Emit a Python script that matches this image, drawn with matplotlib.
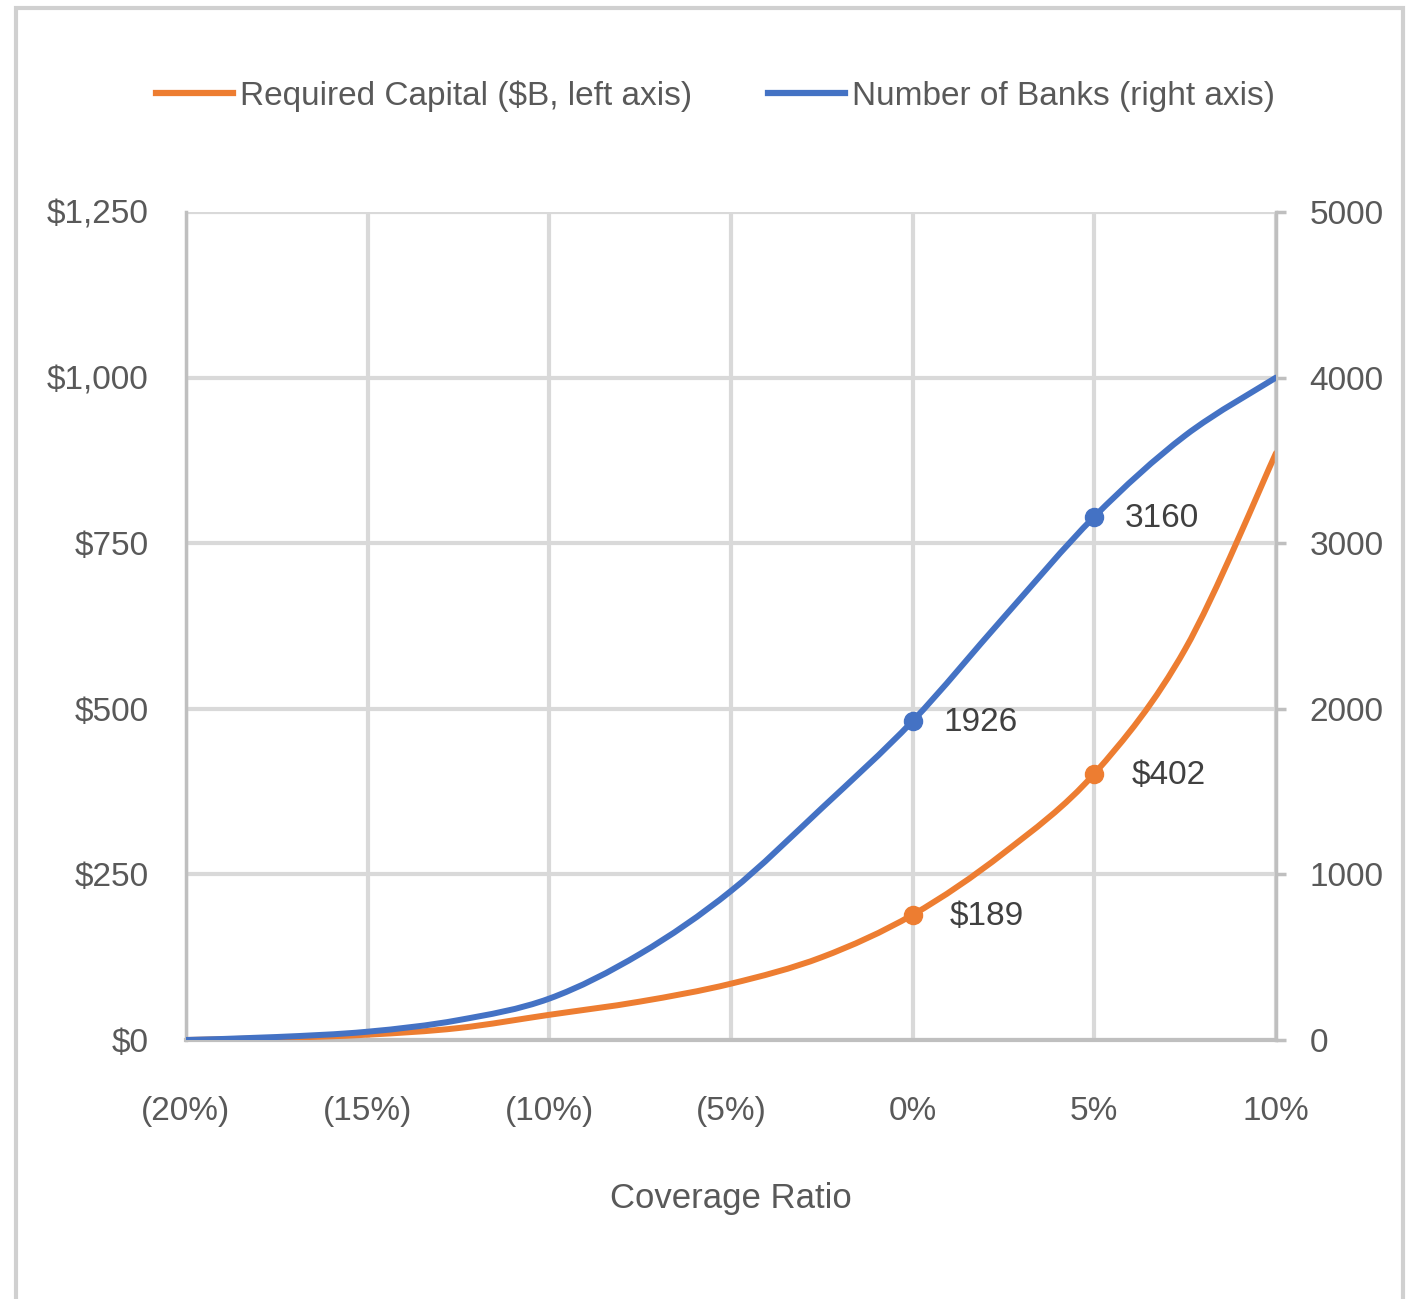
import matplotlib
matplotlib.use("Agg")
import matplotlib.pyplot as plt
from matplotlib.path import Path
from matplotlib.patches import PathPatch, Rectangle
from matplotlib.lines import Line2D
from matplotlib.ticker import FuncFormatter

# data
coverage = [-20, -17.5, -15, -12.5, -10, -7.5, -5, -2.5, 0, 2.5, 5, 7.5, 10]
capital = [0, 3, 8, 18, 38, 58, 85, 125, 189, 282, 402, 590, 886]
banks = [0, 18, 50, 120, 250, 520, 900, 1400, 1926, 2550, 3160, 3650, 4000]
markedX = [0, 5]
markedCapital = [189, 402]
markedBanks = [1926, 3160]
capitalLabels = ["$189", "$402"]
bankLabels = ["1926", "3160"]
xTicks = [-20, -15, -10, -5, 0, 5, 10]
xTickLabels = ["(20%)", "(15%)", "(10%)", "(5%)", "0%", "5%", "10%"]
legendLabels = ["Required Capital ($B, left axis)", "Number of Banks (right axis)"]

ORANGE = "#ED7D31"
BLUE = "#4472C4"
TXT = "#595959"
GRID = "#D9D9D9"
AXIS = "#BFBFBF"
FS = 24

plt.rcParams['font.family'] = ['Liberation Sans', 'DejaVu Sans']


def SmoothPath(xs, ys):
    """Catmull-Rom style bezier through the points, like Excel's smoothed line."""
    verts = [(xs[0], ys[0])]
    codes = [Path.MOVETO]
    n = len(xs)
    for i in range(n - 1):
        x0, y0 = (xs[i - 1], ys[i - 1]) if i > 0 else (xs[i], ys[i])
        x1, y1 = xs[i], ys[i]
        x2, y2 = xs[i + 1], ys[i + 1]
        x3, y3 = (xs[i + 2], ys[i + 2]) if i + 2 < n else (x2, y2)
        c1 = (x1 + (x2 - x0) / 6.0, y1 + (y2 - y0) / 6.0)
        c2 = (x2 - (x3 - x1) / 6.0, y2 - (y3 - y1) / 6.0)
        verts += [c1, c2, (x2, y2)]
        codes += [Path.CURVE4] * 3
    return Path(verts, codes)


fig = plt.figure(figsize=(14.14, 12.99), dpi=100)
ax = fig.add_axes([0.1315, 0.1994, 0.7709, 0.6374])
ax2 = ax.twinx()

# outer frame of the chart
fig.patches.append(Rectangle((0.011, -0.01), 0.981, 1.004, transform=fig.transFigure,
                             fill=False, edgecolor="#D0D0D0", linewidth=3))

ax.set_xlim(-20, 10)
ax.set_ylim(0, 1250)
ax2.set_ylim(0, 5000)

ax.set_xticks(xTicks)
ax.set_xticklabels(xTickLabels)
ax.set_yticks([0, 250, 500, 750, 1000, 1250])
ax.yaxis.set_major_formatter(FuncFormatter(lambda v, p: f"${v:,.0f}"))
ax2.set_yticks([0, 1000, 2000, 3000, 4000, 5000])

ax.grid(True, color=GRID, linewidth=3)
ax.set_axisbelow(True)

for a in (ax, ax2):
    for s in a.spines.values():
        s.set_visible(False)
    a.tick_params(labelsize=FS, colors=TXT, length=0)
ax.spines['bottom'].set_visible(True)
ax.spines['bottom'].set_color(AXIS)
ax.spines['bottom'].set_linewidth(3)
ax.spines['left'].set_visible(True)
ax.spines['left'].set_color(AXIS)
ax.spines['left'].set_linewidth(2.5)
ax2.spines['right'].set_visible(True)
ax2.spines['right'].set_color(AXIS)
ax2.spines['right'].set_linewidth(2.5)
ax.tick_params(axis='y', pad=27)
ax2.tick_params(axis='y', length=7, width=2.5, color=AXIS, pad=17)
ax.tick_params(axis='x', pad=40)

ax.add_patch(PathPatch(SmoothPath(coverage, capital), fill=False, edgecolor=ORANGE,
                       linewidth=4.3, capstyle='round', zorder=3))
ax2.add_patch(PathPatch(SmoothPath(coverage, banks), fill=False, edgecolor=BLUE,
                        linewidth=4.3, capstyle='round', zorder=3))

ax.plot(markedX, markedCapital, 'o', color=ORANGE, markersize=13, zorder=4)
ax2.plot(markedX, markedBanks, 'o', color=BLUE, markersize=13, zorder=4)

for x, y, t in zip(markedX, markedCapital, capitalLabels):
    ax.annotate(t, (x, y), xytext=(27, -1), textcoords='offset points', fontsize=FS,
                color="#404040", va='center', ha='left')
for x, y, t in zip(markedX, markedBanks, bankLabels):
    ax2.annotate(t, (x, y), xytext=(22, -1), textcoords='offset points', fontsize=FS,
                 color="#404040", va='center', ha='left')

ax.set_xlabel("Coverage Ratio", fontsize=25, color=TXT, labelpad=40)

handles = [Line2D([], [], color=ORANGE, linewidth=4.5),
           Line2D([], [], color=BLUE, linewidth=4.5)]
fig.legend(handles, legendLabels, loc='center', bbox_to_anchor=(0.506, 0.926), ncol=2,
           frameon=False, fontsize=FS, labelcolor=TXT, handlelength=2.3,
           handletextpad=0.2, columnspacing=2.3)

fig.savefig("out.png", dpi=100, facecolor="white")
